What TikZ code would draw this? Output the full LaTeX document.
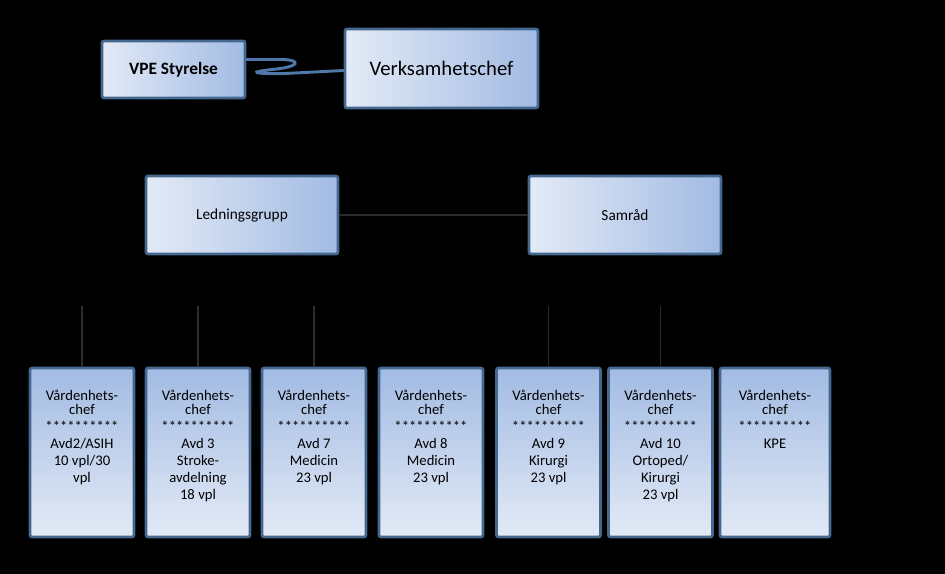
\documentclass[tikz,border=0pt]{standalone}
\usepackage{fontspec}
\setmainfont{Carlito}
\usetikzlibrary{positioning}
\definecolor{boxlight}{HTML}{E3EAF6}
\definecolor{boxdark}{HTML}{A2BBE3}
\definecolor{boxedge}{HTML}{45688F}
\definecolor{wire}{HTML}{2C2C2C}
\definecolor{squiggle}{HTML}{5077AA}
\newcommand{\stars}{\\**********\\[0.5pt]}

\begin{document}
\begin{tikzpicture}[x=0.75pt,y=-0.75pt,
  head/.style={draw=boxedge,line width=2pt,rounded corners=1.5pt,left color=boxlight,right color=boxdark,text=black,inner sep=0pt,font=\fontsize{11.5}{14}\selectfont},
  unit/.style={draw=boxedge,line width=2pt,rounded corners=1.5pt,top color=boxdark,bottom color=boxlight,minimum width=78pt,minimum height=126.75pt,inner sep=0pt},
  utext/.style={anchor=north,align=center,inner sep=0pt,yshift=-17.5pt,font=\fontsize{11}{12.75}\selectfont},
  link/.style={wire,line width=1pt}]
  \fill[black] (0,0) rectangle (945,574);
  % top row
  \node[head,minimum width=107.25pt,minimum height=42.75pt,font=\fontsize{13}{16}\selectfont\bfseries] (vpe) at (173.5,69.5) {VPE Styrelse};
  \node[head,minimum width=144.75pt,minimum height=59.25pt,font=\fontsize{15.5}{18}\selectfont] (chief) at (441.5,68.5) {Verksamhetschef};
  \draw[squiggle,line width=2.2pt,line cap=round] ([yshift=7.5pt]vpe.east) -- (282,59.5)
    .. controls (302,60) and (300,67) .. (272,69.5) .. controls (248,72) and (252,74) .. (285,73.5)
    -- ([yshift=-1.5pt]chief.west);
  % middle row
  \node[head,minimum width=144pt,minimum height=58.5pt] (mgmt) at (242,215) {Ledningsgrupp};
  \node[head,minimum width=144pt,minimum height=58.5pt] (council) at (625,215) {Samråd};
  \draw[link] (mgmt) -- (council);
  % units
  \node[unit] (u1) at (82,452.5) {};
  \node[utext] (t1) at (u1.north) {Vårdenhets-\\[-2.5pt]chef\stars Avd2/ASIH\\10 vpl/30\\vpl};
  \node[unit] (u2) at (198,452.5) {};
  \node[utext] (t2) at (u2.north) {Vårdenhets-\\[-2.5pt]chef\stars Avd 3\\Stroke-\\avdelning\\18 vpl};
  \node[unit] (u3) at (314,452.5) {};
  \node[utext] (t3) at (u3.north) {Vårdenhets-\\[-2.5pt]chef\stars Avd 7\\Medicin\\23 vpl};
  \node[unit] (u4) at (431,452.5) {};
  \node[utext] (t4) at (u4.north) {Vårdenhets-\\[-2.5pt]chef\stars Avd 8\\Medicin\\23 vpl};
  \node[unit] (u5) at (548.5,452.5) {};
  \node[utext] (t5) at (u5.north) {Vårdenhets-\\[-2.5pt]chef\stars Avd 9\\Kirurgi\\23 vpl};
  \node[unit] (u6) at (660.5,452.5) {};
  \node[utext] (t6) at (u6.north) {Vårdenhets-\\[-2.5pt]chef\stars Avd 10\\Ortoped/\\Kirurgi\\23 vpl};
  \node[unit,minimum width=82.5pt] (u7) at (775,452.5) {};
  \node[utext] (t7) at (u7.north) {Vårdenhets-\\[-2.5pt]chef\stars KPE};
  % stubs above the units
  \coordinate[above=45.75pt of u1.north] (s1);
  \coordinate[above=45.75pt of u2.north] (s2);
  \coordinate[above=45.75pt of u3.north] (s3);
  \coordinate[above=45.75pt of u5.north] (s5);
  \coordinate[above=45.75pt of u6.north] (s6);
  \draw[link] (s1) -- (u1);
  \draw[link] (s2) -- (u2);
  \draw[link] (s3) -- (u3);
  \draw[link] (s5) -- (u5);
  \draw[link] (s6) -- (u6);
\end{tikzpicture}
\end{document}
